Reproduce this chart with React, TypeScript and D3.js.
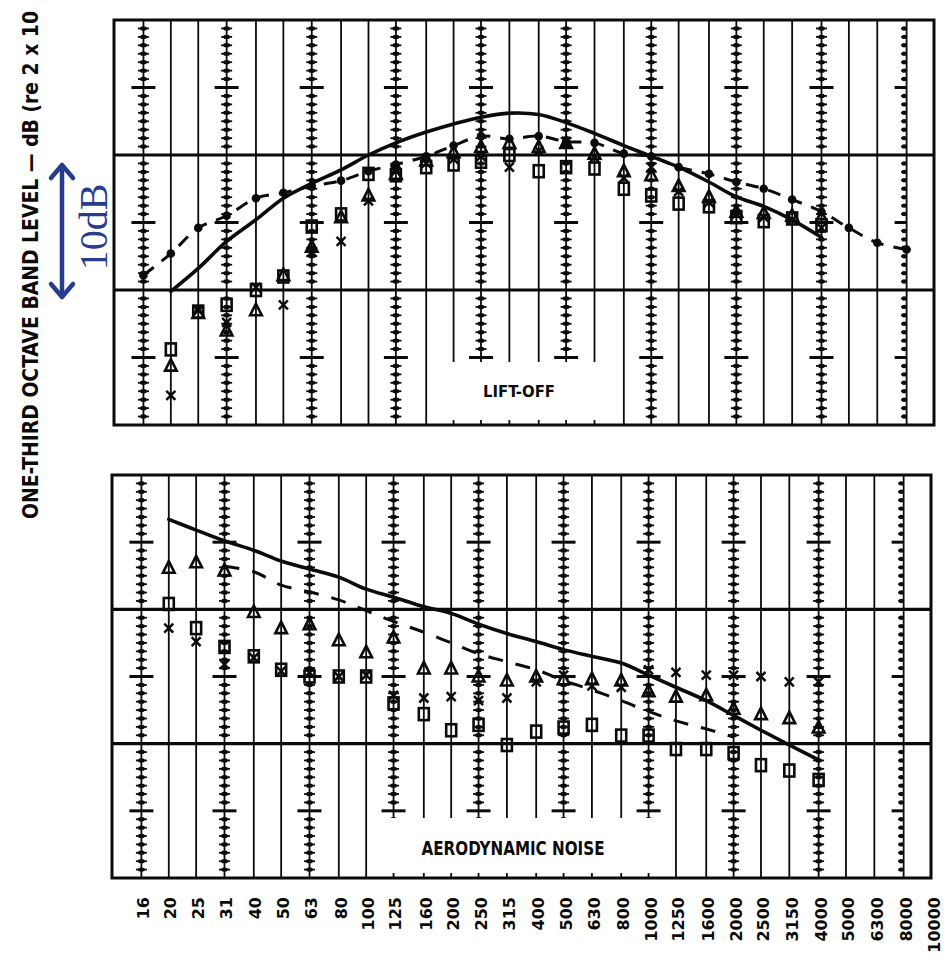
import React from "react";
import * as d3 from "d3";

// One-third octave band centre frequencies (Hz) and their printed labels
const bandLabels = ["16", "20", "25", "31", "40", "50", "63", "80", "100", "125", "160", "200", "250", "315", "400", "500", "630", "800", "1000", "1250", "1600", "2000", "2500", "3150", "4000", "5000", "6300", "8000", "10000"];
const bandFreqs = [16, 20, 25, 31.5, 40, 50, 63, 80, 100, 125, 160, 200, 250, 315, 400, 500, 630, 800, 1000, 1250, 1600, 2000, 2500, 3150, 4000, 5000, 6300, 8000, 10000];
// Octave bands carry the dB scale ticks
const octaveFreqs = [16, 31.5, 63, 125, 250, 500, 1000, 2000, 4000, 8000];

type V = number | null;
const _ = null;

// LIFT-OFF panel, levels in dB above the panel floor, one value per band
const liftoffSolid: V[] = [_, 9.9, 11.6, 13.6, 15.2, 16.8, 17.9, 18.9, 20.0, 20.9, 21.7, 22.3, 22.8, 23.1, 23.0, 22.4, 21.6, 20.7, 19.9, 19.1, 18.0, 16.9, 16.2, 15.2, 13.9, _, _, _, _];
const liftoffDashed: V[] = [11.1, 12.7, 14.6, 15.5, 16.8, 17.2, 17.7, 18.1, 18.8, 19.3, 19.9, 20.7, 21.4, 21.2, 21.4, 21.0, 20.9, 20.1, 19.9, 19.1, 18.6, 18.0, 17.5, 16.7, 15.8, 14.6, 13.5, 13.0, _];
const liftoffSquares: V[] = [_, 5.6, 8.4, 8.9, 10.0, 11.0, 14.7, 15.6, 18.6, 18.5, 19.1, 19.3, 19.5, 20.0, 18.8, 19.1, 19.0, 17.5, 17.0, 16.4, 16.2, 15.4, 15.1, 15.3, 14.8, _, _, _, _];
const liftoffTriangles: V[] = [_, 4.4, 8.3, 7.0, 8.5, 11.1, 13.2, 15.4, 17.0, 18.6, 19.6, 20.2, 20.6, 20.9, 20.6, 20.9, 20.1, 18.8, 18.5, 17.7, 16.9, 15.8, 15.7, 15.5, 15.4, _, _, _, _];
const liftoffCrosses: V[] = [_, 2.2, 8.5, 7.6, 10.2, 8.9, 12.8, 13.6, 16.6, 18.8, 19.4, 19.7, 19.9, 19.1, 20.3, 21.0, 19.8, 18.3, 19.1, 17.3, 16.5, 15.6, 15.4, 15.2, 14.6, _, _, _, _];

// AERODYNAMIC NOISE panel
const aeroSolid: V[] = [_, 26.7, 25.9, 25.1, 24.4, 23.6, 23.0, 22.4, 21.5, 20.9, 20.2, 19.7, 18.9, 18.2, 17.6, 17.0, 16.5, 16.0, 15.1, 14.2, 13.2, 12.1, 11.0, 9.9, 8.8, _, _, _, _];
const aeroDashed: V[] = [_, _, _, 23.2, 22.8, 21.8, 21.3, 20.7, 19.9, 19.1, 18.3, 17.5, 16.7, 16.1, 15.5, 14.7, 14.0, 13.2, 12.4, 11.7, 11.1, 10.5, _, _, _, _, _, _, _];
const aeroSquares: V[] = [_, 20.4, 18.6, 17.2, 16.5, 15.5, 15.0, 15.0, 15.0, 13.0, 12.2, 11.0, 11.4, 9.9, 10.9, 11.2, 11.4, 10.6, 10.6, 9.6, 9.6, 9.3, 8.4, 8.0, 7.3, _, _, _, _];
const aeroTriangles: V[] = [_, 23.1, 23.5, 22.9, 19.8, 18.6, 18.9, 17.7, 16.8, 17.9, 15.6, 15.6, 15.0, 14.7, 15.0, 14.8, 14.8, 14.7, 13.9, 13.5, 13.6, 12.6, 12.2, 11.9, 11.2, _, _, _, _];
const aeroCrosses: V[] = [_, 18.6, 17.6, 15.9, 16.4, 15.4, 15.3, 15.0, 15.1, 13.6, 13.4, 13.5, 13.2, 13.4, 14.6, 15.1, 14.3, 14.2, 15.5, 15.3, 15.1, 15.1, 15.0, 14.6, 14.6, _, _, _, _];

const INK = "#0b0b0b";
const BLUE = "#283c8e";

type PanelProps = {
  top: number;
  bottom: number;
  left: number;
  right: number;
  solid: V[];
  dashed: V[];
  dashedDots: boolean;
  dashPattern: string;
  squares: V[];
  triangles: V[];
  crosses: V[];
  title: string;
  titleX: number;
  titleY: number;
  titleSize: number;
  titleLength: number;
  box: [number, number, number, number];
};

function pairs(vals: V[]): [number, number][] {
  const out: [number, number][] = [];
  vals.forEach((v, i) => {
    if (v !== null) out.push([bandFreqs[i], v]);
  });
  return out;
}

function Panel(p: PanelProps) {
  const x = d3.scaleLog().domain([12.589, 10000]).range([p.left, p.right]);
  const y = d3.scaleLinear().domain([0, 30]).range([p.bottom, p.top]);

  const line = d3
    .line<[number, number]>()
    .x((d) => x(d[0]))
    .y((d) => y(d[1]))
    .curve(d3.curveCatmullRom.alpha(0.5));

  const tickSteps = d3.range(1, 48); // 0.625 dB steps between borders
  const solidPts = pairs(p.solid);
  const dashedPts = pairs(p.dashed);

  const [bx0, by0, bx1, by1] = p.box;

  return (
    <g>
      {/* band grid lines */}
      {bandFreqs.slice(0, -1).map((f) => (
        <line key={"v" + f} x1={x(f)} x2={x(f)} y1={p.top} y2={p.bottom} stroke={INK} strokeWidth={1.8} />
      ))}
      {/* dB scale ticks on octave bands */}
      {octaveFreqs.map((f) => {
        const cx = x(f);
        const leftOnly = f === 8000;
        return (
          <g key={"t" + f}>
            {tickSteps.map((k) => {
              if (k % 16 === 0) return null;
              const ty = y(k * 0.625);
              if (k % 8 === 0) {
                return (
                  <line key={k} x1={cx - 12} x2={leftOnly ? cx : cx + 12} y1={ty} y2={ty} stroke={INK} strokeWidth={3} />
                );
              }
              return (
                <g key={k}>
                  <line x1={cx - 5.5} x2={leftOnly ? cx : cx + 5.5} y1={ty} y2={ty} stroke={INK} strokeWidth={1.8} />
                  <ellipse cx={leftOnly ? cx - 2.5 : cx} cy={ty} rx={leftOnly ? 2.6 : 3.4} ry={2.2} fill={INK} />
                </g>
              );
            })}
          </g>
        );
      })}
      {/* heavy 10 dB lines */}
      {[10, 20].map((d) => (
        <line key={"h" + d} x1={p.left} x2={p.right} y1={y(d)} y2={y(d)} stroke={INK} strokeWidth={3.2} />
      ))}
      {/* frame */}
      <rect x={p.left} y={p.top} width={p.right - p.left} height={p.bottom - p.top} fill="none" stroke={INK} strokeWidth={3} />

      {/* title box */}
      <rect x={bx0} y={by0} width={bx1 - bx0} height={by1 - by0} fill="#fff" />
      <text
        x={p.titleX}
        y={p.titleY}
        textAnchor="middle"
        dominantBaseline="central"
        fontFamily="'Liberation Sans Narrow', 'DejaVu Sans Condensed', 'Roboto', sans-serif"
        fontWeight={600}
        fontSize={p.titleSize}
        textLength={p.titleLength}
        lengthAdjust="spacingAndGlyphs"
        fill={INK}
      >
        {p.title}
      </text>

      {/* curves */}
      <path d={line(solidPts) ?? ""} fill="none" stroke={INK} strokeWidth={3.6} strokeLinecap="round" />
      <path d={line(dashedPts) ?? ""} fill="none" stroke={INK} strokeWidth={3} strokeDasharray={p.dashPattern} />
      {p.dashedDots &&
        dashedPts.map((d, i) => <circle key={"dot" + i} cx={x(d[0])} cy={y(d[1])} r={4.3} fill={INK} />)}

      {/* measured points */}
      {pairs(p.squares).map((d, i) => (
        <rect key={"sq" + i} x={x(d[0]) - 5} y={y(d[1]) - 6} width={10} height={12} fill="none" stroke={INK} strokeWidth={2.6} />
      ))}
      {pairs(p.triangles).map((d, i) => {
        const cx = x(d[0]);
        const cy = y(d[1]);
        return (
          <path
            key={"tr" + i}
            d={`M${cx},${cy - 6.5}L${cx + 5.8},${cy + 5}L${cx - 5.8},${cy + 5}Z`}
            fill="none"
            stroke={INK}
            strokeWidth={2.6}
            strokeLinejoin="miter"
          />
        );
      })}
      {pairs(p.crosses).map((d, i) => {
        const cx = x(d[0]);
        const cy = y(d[1]);
        return (
          <path
            key={"cr" + i}
            d={`M${cx - 4.5},${cy - 4.5}L${cx + 4.5},${cy + 4.5}M${cx + 4.5},${cy - 4.5}L${cx - 4.5},${cy + 4.5}`}
            stroke={INK}
            strokeWidth={2.5}
          />
        );
      })}
    </g>
  );
}

export default function App() {
  const W = 947;
  const H = 964;
  const xLabels = d3.scaleLog().domain([12.589, 10000]).range([114, 934]);

  return (
    <svg
      width={W}
      height={H}
      viewBox={`0 0 ${W} ${H}`}
      style={{ position: "absolute", left: 0, top: 0, background: "#fff" }}
    >
      <rect width={W} height={H} fill="#fff" />

      {/* axis title */}
      <text
        transform="translate(38,519) rotate(-90)"
        textAnchor="start"
        fontFamily="'DejaVu Sans Condensed', 'Liberation Sans Narrow', 'DejaVu Sans', sans-serif"
        fontWeight="bold"
        fontSize={21}
        textLength={508}
        lengthAdjust="spacingAndGlyphs"
        fill={INK}
      >
        ONE-THIRD OCTAVE BAND LEVEL — dB (re 2 x 10
      </text>

      {/* 10 dB scale marker */}
      <g stroke={BLUE} strokeWidth={4.5} fill="none" strokeLinecap="round" strokeLinejoin="round">
        <line x1={62} x2={62} y1={166} y2={296} />
        <polyline points="51,178 62,165 73,178" />
        <polyline points="51,284 62,297 73,284" />
      </g>
      <text
        transform="translate(107,227) rotate(-90)"
        textAnchor="middle"
        fontFamily="'Liberation Serif', 'DejaVu Serif', serif"
        fontSize={40}
        fill={BLUE}
      >
        10dB
      </text>

      <Panel
        top={20}
        bottom={425}
        left={114}
        right={934}
        solid={liftoffSolid}
        dashed={liftoffDashed}
        dashedDots={true}
        dashPattern="13 10"
        squares={liftoffSquares}
        triangles={liftoffTriangles}
        crosses={liftoffCrosses}
        title="LIFT-OFF"
        titleX={519}
        titleY={391}
        titleSize={16}
        titleLength={72}
        box={[440, 362, 602, 420]}
      />
      <Panel
        top={475}
        bottom={878}
        left={112}
        right={931}
        solid={aeroSolid}
        dashed={aeroDashed}
        dashedDots={false}
        dashPattern="15 13"
        squares={aeroSquares}
        triangles={aeroTriangles}
        crosses={aeroCrosses}
        title="AERODYNAMIC NOISE"
        titleX={513}
        titleY={848}
        titleSize={19}
        titleLength={183}
        box={[382, 818, 664, 873]}
      />

      {/* frequency labels */}
      {bandFreqs.map((f, i) => (
        <text
          key={bandLabels[i]}
          transform={`translate(${xLabels(f)},897) rotate(-90)`}
          textAnchor="end"
          dominantBaseline="central"
          fontFamily="'DejaVu Sans', sans-serif"
          fontWeight="bold"
          fontSize={16}
          fill={INK}
        >
          {bandLabels[i]}
        </text>
      ))}
    </svg>
  );
}
